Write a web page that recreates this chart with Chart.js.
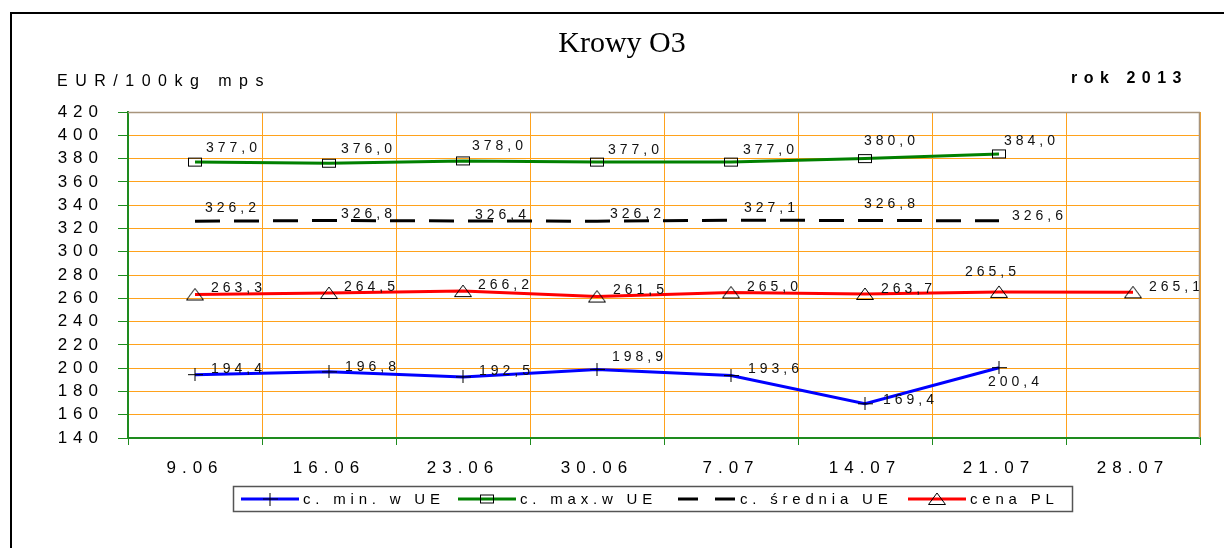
<!DOCTYPE html>
<html><head><meta charset="utf-8">
<script src="https://cdn.jsdelivr.net/npm/chart.js@4.4.1/dist/chart.umd.min.js"></script>
<style>html,body{margin:0;padding:0;background:#fff}canvas{display:block}</style>
</head><body>
<canvas id="c" width="1224" height="548"></canvas>
<script>
// ---- data ----
const categories = ['9.06','16.06','23.06','30.06','7.07','14.07','21.07','28.07'];
const minUE  = [194.4,196.8,192.5,198.9,193.6,169.4,200.4,null];
const maxUE  = [377.0,376.0,378.0,377.0,377.0,380.0,384.0,null];
const avgUE  = [326.2,326.8,326.4,326.2,327.1,326.8,326.6,null];
const cenaPL = [263.3,264.5,266.2,261.5,265.0,263.7,265.5,265.1];
const yTicks = [140,160,180,200,220,240,260,280,300,320,340,360,380,400,420];
const seriesNames = ['c. min. w UE','c. max.w UE','c. średnia UE','cena PL'];
const titleText = 'Krowy O3';
const unitText = 'EUR/100kg mps';
const yearText = 'rok 2013';

const SANS = "'Liberation Sans', Arial, sans-serif";
const GRID = '#FFA21C';
const AXIS = '#1E8B1E';
const EDGE = '#A8957C';

// ---- marker images ----
function mk(w,h,draw){const c=document.createElement('canvas');c.width=w;c.height=h;const x=c.getContext('2d');x.strokeStyle='#000';x.lineWidth=1;draw(x);return c;}
const crossImg = mk(15,13,x=>{x.beginPath();x.moveTo(0,6.5);x.lineTo(15,6.5);x.moveTo(7.5,0);x.lineTo(7.5,13);x.stroke();});
const rectImg  = mk(16,11,x=>{x.strokeRect(1.5,1.5,13,8);});
const triImg   = mk(20,14,x=>{x.beginPath();x.moveTo(10,1);x.lineTo(1.5,12.5);x.lineTo(18.5,12.5);x.closePath();x.stroke();});

// label offsets (dx from point to label left edge, dy to label middle)
const labelOffsets = [
  [[16,-6],[16,-5],[16,-6],[15,-12],[17,-6],[18,-4],[-11,14]],
  [[11,-14],[12,-14],[9,-15],[11,-12],[12,-12],[-1,-17],[5,-13]],
  [[10,-13],[12,-6],[12,-6],[13,-7],[13,-12],[-1,-16],[13,-5]],
  [[16,-6],[15,-6],[15,-6],[16,-6],[16,-5],[16,-5],[-34,-20],[16,-5]]
];
const legendX = [241,458,678,908];

const spacingPlugin = {
  id:'spacing',
  beforeDraw(chart){ chart.ctx.letterSpacing='6px'; }
};

const labelsPlugin = {
  id:'dlabels',
  afterDatasetsDraw(chart){
    const ctx=chart.ctx; ctx.save();
    ctx.letterSpacing='4px';
    ctx.font="14px "+SANS; ctx.fillStyle='#111'; ctx.textAlign='left'; ctx.textBaseline='middle';
    chart.data.datasets.forEach((ds,i)=>{
      const meta=chart.getDatasetMeta(i);
      meta.data.forEach((pt,j)=>{
        const v=ds.data[j]; if(v==null) return;
        const o=labelOffsets[i][j]||[12,-8];
        ctx.fillText(v.toFixed(1).replace('.',','), pt.x+o[0], pt.y+o[1]);
      });
    });
    ctx.restore();
  }
};

const decoPlugin = {
  id:'deco',
  afterDraw(chart){
    const ctx=chart.ctx, a=chart.chartArea;
    ctx.save();
    // outer frame
    ctx.fillStyle='#000';
    ctx.fillRect(10,12,2,548); ctx.fillRect(10,12,1224,2);
    // plot top / right edge
    ctx.strokeStyle=EDGE; ctx.lineWidth=1.5;
    ctx.beginPath(); ctx.moveTo(a.left,a.top+0.5); ctx.lineTo(a.right,a.top+0.5);
    ctx.moveTo(a.right-0.5,a.top); ctx.lineTo(a.right-0.5,a.bottom); ctx.stroke();
    // title
    ctx.letterSpacing='0px';
    ctx.fillStyle='#000'; ctx.textAlign='center'; ctx.textBaseline='alphabetic';
    ctx.font="30px 'Liberation Serif', 'Times New Roman', serif";
    ctx.fillText(titleText, 622, 52);
    ctx.textAlign='left';
    ctx.letterSpacing='7.5px'; ctx.font="16px "+SANS;
    ctx.fillText(unitText, 57, 86);
    ctx.textAlign='right';
    ctx.letterSpacing='6.5px'; ctx.font="bold 16px "+SANS;
    ctx.fillText(yearText, 1188, 83);
    // legend
    const lx=233, ly=486, lw=839, lh=25;
    ctx.strokeStyle='#555'; ctx.lineWidth=1.5;
    ctx.strokeRect(lx+0.5,ly+0.5,lw,lh);
    const cy=ly+lh/2+0.5;
    ctx.font="15px "+SANS; ctx.letterSpacing='4.8px'; ctx.textAlign='left'; ctx.textBaseline='middle';
    chart.data.datasets.forEach((ds,i)=>{
      const x=legendX[i];
      ctx.save();
      ctx.strokeStyle=ds.borderColor; ctx.lineWidth=3;
      if(ds.borderDash && ds.borderDash.length){ ctx.setLineDash([20,17]); }
      ctx.beginPath(); ctx.moveTo(x,cy); ctx.lineTo(x+58,cy); ctx.stroke();
      ctx.restore();
      const img=ds.pointStyle;
      if(img && img.width && ds.pointRadius!==0){ ctx.drawImage(img, x+29-img.width/2, cy-img.height/2); }
      ctx.fillStyle='#000';
      ctx.fillText(seriesNames[i], x+62, cy+1);
    });
    ctx.restore();
  }
};

new Chart(document.getElementById('c'), {
  type:'line',
  data:{
    labels:categories,
    datasets:[
      {label:seriesNames[0], data:minUE, borderColor:'#0000FF', borderWidth:3, pointStyle:crossImg, pointRadius:7, pointBorderColor:'#000', tension:0, spanGaps:false},
      {label:seriesNames[1], data:maxUE, borderColor:'#008000', borderWidth:3, pointStyle:rectImg, pointRadius:7, pointBorderColor:'#000', tension:0},
      {label:seriesNames[2], data:avgUE, borderColor:'#000000', borderWidth:3, borderDash:[25,14], pointRadius:0, pointStyle:false, tension:0},
      {label:seriesNames[3], data:cenaPL, borderColor:'#FF0000', borderWidth:3, pointStyle:triImg, pointRadius:8, pointBorderColor:'#000', tension:0}
    ]
  },
  options:{
    responsive:false, animation:false, devicePixelRatio:1,
    layout:{padding:{left:0,right:24,top:112,bottom:60}},
    plugins:{legend:{display:false}, title:{display:false}, tooltip:{enabled:false}},
    elements:{point:{hoverRadius:7}},
    scales:{
      x:{
        offset:true,
        grid:{color:GRID, lineWidth:1, offset:true, tickColor:AXIS, tickLength:7, drawTicks:true},
        border:{color:AXIS, width:2},
        ticks:{color:'#000', font:{family:SANS, size:17}, padding:13, maxRotation:0, autoSkip:false},
        afterFit(s){ s.height=50; }
      },
      y:{
        min:140, max:420,
        afterBuildTicks(s){ s.ticks = yTicks.map(v=>({value:v})); },
        grid:{color:GRID, lineWidth:1, tickColor:AXIS, tickLength:10},
        border:{color:AXIS, width:2},
        ticks:{color:'#000', font:{family:SANS, size:17}, padding:14, autoSkip:false},
        afterFit(s){ s.width=128; }
      }
    }
  },
  plugins:[spacingPlugin, labelsPlugin, decoPlugin]
});
</script>
</body></html>
